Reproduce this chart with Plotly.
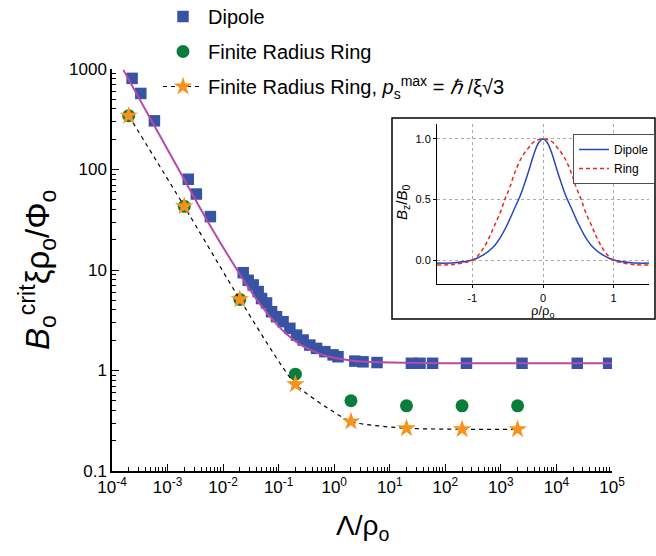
import plotly.graph_objects as go

# ---------------- main chart data ----------------
dipole_x = [2.3e-4, 3.3e-4, 5.8e-4, 2.36e-3, 3.3e-3, 5.9e-3,
            0.023, 0.0283, 0.0348, 0.0428, 0.0492, 0.0605, 0.0745, 0.0916,
            0.12, 0.159, 0.21, 0.276, 0.364, 0.48, 0.678, 0.955, 1.17,
            2.35, 3.3, 5.9, 24.5, 35, 59, 240, 2400, 23700, 87000]
dipole_y = [807, 571, 305, 80, 57, 34,
            9.4, 7.9, 7.1, 6.1, 5.2, 4.7, 3.85, 3.43,
            3.06, 2.63, 2.25, 2.01, 1.79, 1.66, 1.54, 1.43, 1.37,
            1.24, 1.22, 1.2, 1.18, 1.18, 1.18, 1.18, 1.18, 1.18, 1.18]

fit_x = [1.6e-4, 5e-4, 1e-3, 3e-3, 6e-3, 0.0187, 0.03, 0.06, 0.1, 0.14,
         0.25, 0.36, 0.6, 0.95, 2, 3, 10, 100, 1000, 1e5]
fit_y = [980, 315, 158, 53, 27, 9.6, 6.4, 3.8, 2.75, 2.3,
         1.8, 1.62, 1.44, 1.35, 1.26, 1.23, 1.2, 1.18, 1.18, 1.18]

ring_x = [2e-4, 2e-3, 2e-2, 0.2, 2, 20, 200, 2000]
ring_y = [343, 43, 5.1, 0.92, 0.50, 0.445, 0.445, 0.445]
ring_pmax_y = [343, 43, 5.1, 0.73, 0.31, 0.266, 0.26, 0.26]

x_tickvals = [1e-4, 1e-3, 1e-2, 1e-1, 1, 10, 100, 1e3, 1e4, 1e5]
x_ticktext = ["10<sup>-4</sup>", "10<sup>-3</sup>", "10<sup>-2</sup>", "10<sup>-1</sup>",
              "10<sup>0</sup>", "10<sup>1</sup>", "10<sup>2</sup>", "10<sup>3</sup>",
              "10<sup>4</sup>", "10<sup>5</sup>"]
y_tickvals = [0.1, 1, 10, 100, 1000]
y_ticktext = ["0.1", "1", "10", "100", "1000"]

# ---------------- inset data ----------------
inset_dipole_x = [-1.5, -1.25, -1.0, -0.85, -0.7, -0.6, -0.5, -0.4, -0.33, -0.25, -0.2, -0.12, -0.06, 0.0,
                  0.06, 0.12, 0.2, 0.25, 0.33, 0.4, 0.5, 0.6, 0.7, 0.85, 1.0, 1.25, 1.5]
inset_dipole_y = [-0.025, -0.022, 0.0, 0.04, 0.11, 0.19, 0.30, 0.43, 0.52, 0.65, 0.74, 0.89, 0.97, 1.0,
                  0.97, 0.89, 0.74, 0.65, 0.52, 0.43, 0.30, 0.19, 0.11, 0.04, 0.0, -0.022, -0.025]
inset_ring_x = [-1.5, -1.3, -1.1, -1.0, -0.9, -0.83, -0.75, -0.69, -0.6, -0.54, -0.47, -0.4, -0.3, -0.2, -0.12, 0.0,
                0.12, 0.2, 0.3, 0.4, 0.47, 0.54, 0.6, 0.69, 0.75, 0.83, 0.9, 1.0, 1.1, 1.3, 1.5]
inset_ring_y = [-0.04, -0.038, -0.02, -0.005, 0.05, 0.11, 0.2, 0.28, 0.4, 0.5, 0.6, 0.72, 0.85, 0.93, 0.98, 1.0,
                0.98, 0.93, 0.85, 0.72, 0.6, 0.5, 0.4, 0.28, 0.2, 0.11, 0.05, -0.005, -0.02, -0.038, -0.04]

W, H = 656, 556
FONT = "Liberation Sans, Arial, sans-serif"
BLUE = "rgb(57,83,164)"
GREEN = "rgb(10,125,60)"
ORANGE = "rgb(247,146,30)"
MAGENTA = "rgb(180,75,170)"

def px_x(p):
    return p / W

def px_y(p):
    return (H - p) / H

fig = go.Figure()

fig.add_trace(go.Scatter(x=dipole_x, y=dipole_y, mode="markers", name="Dipole",
                         marker=dict(symbol="square", size=11.5, color=BLUE),
                         legendgroup="a", legend="legend"))
fig.add_trace(go.Scatter(x=fit_x, y=fit_y, mode="lines", showlegend=False,
                         line=dict(color=MAGENTA, width=2, shape="spline", smoothing=0.8)))
fig.add_trace(go.Scatter(x=ring_x, y=ring_y, mode="markers", name="Finite Radius Ring",
                         marker=dict(symbol="circle", size=13, color=GREEN),
                         legendgroup="b", legend="legend"))
fig.add_trace(go.Scatter(x=ring_x, y=ring_pmax_y, mode="lines+markers",
                         name="Finite Radius Ring, <i>p</i><sub>s</sub><sup>max</sup> = <i>ℏ</i> /ξ√3",
                         marker=dict(symbol="star", size=14, color=ORANGE),
                         line=dict(color="black", width=1.2, dash="4px,4px", shape="spline", smoothing=0.5),
                         legendgroup="c", legend="legend"))

# inset traces
fig.add_trace(go.Scatter(x=inset_dipole_x, y=inset_dipole_y, mode="lines", name="Dipole",
                         line=dict(color="rgb(40,70,190)", width=1.5, shape="spline"),
                         xaxis="x2", yaxis="y2", legend="legend2", legendgroup="i"))
fig.add_trace(go.Scatter(x=inset_ring_x, y=inset_ring_y, mode="lines", name="Ring",
                         line=dict(color="rgb(235,40,30)", width=1.5, dash="4px,3px", shape="spline"),
                         xaxis="x2", yaxis="y2", legend="legend2", legendgroup="i"))

minor_vals = [m * 10 ** e for e in range(-4, 5) for m in range(2, 10)]
minor_vals_y = [m * 10 ** e for e in range(-1, 3) for m in range(2, 10)]

fig.update_layout(
    width=W, height=H,
    margin=dict(l=0, r=0, t=0, b=0, autoexpand=False),
    paper_bgcolor="white", plot_bgcolor="rgba(0,0,0,0)",
    font=dict(family=FONT, color="black"),
    xaxis=dict(type="log", range=[-4, 5], domain=[px_x(112), px_x(612)],
               tickmode="array", tickvals=x_tickvals, ticktext=x_ticktext,
               ticks="inside", ticklen=7, tickwidth=1.2, tickcolor="black",
               minor=dict(tickmode="array", tickvals=minor_vals, ticks="inside", ticklen=4,
                          tickwidth=1, tickcolor="black", showgrid=False),
               showline=True, linecolor="black", linewidth=1.5, showgrid=False, zeroline=False,
               tickfont=dict(size=17), anchor="y"),
    yaxis=dict(type="log", range=[-1, 3], domain=[px_y(471), px_y(69)],
               tickmode="array", tickvals=y_tickvals, ticktext=y_ticktext,
               ticks="inside", ticklen=7, tickwidth=1.2, tickcolor="black",
               minor=dict(tickmode="array", tickvals=minor_vals_y, ticks="inside", ticklen=4,
                          tickwidth=1, tickcolor="black", showgrid=False),
               showline=True, linecolor="black", linewidth=1.5, showgrid=False, zeroline=False,
               tickfont=dict(size=17), anchor="x"),
    xaxis2=dict(range=[-1.5, 1.5], domain=[px_x(437), px_x(649)], anchor="y2",
                tickvals=[-1, 0, 1], ticktext=["-1", "0", "1"],
                ticks="outside", ticklen=3, tickcolor="black",
                showline=True, linecolor="black", linewidth=1,
                showgrid=True, gridcolor="rgb(170,170,170)", griddash="dot", gridwidth=1,
                zeroline=False, tickfont=dict(size=11)),
    yaxis2=dict(range=[-0.2, 1.12], domain=[px_y(284.3), px_y(124.4)], anchor="x2",
                tickvals=[0, 0.5, 1.0], ticktext=["0.0", "0.5", "1.0"],
                ticks="outside", ticklen=3, tickcolor="black",
                showline=True, linecolor="black", linewidth=1,
                showgrid=True, gridcolor="rgb(170,170,170)", griddash="dot", gridwidth=1,
                zeroline=False, tickfont=dict(size=11)),
    legend=dict(x=px_x(158), y=px_y(-3), xanchor="left", yanchor="top",
                font=dict(size=20), bgcolor="rgba(0,0,0,0)", tracegroupgap=6,
                itemwidth=40),
    legend2=dict(x=px_x(573), y=px_y(134), xanchor="left", yanchor="top",
                 font=dict(size=12), bgcolor="white", bordercolor="rgb(80,80,80)",
                 borderwidth=1, tracegroupgap=0, itemwidth=30),
    shapes=[dict(type="rect", xref="paper", yref="paper",
                 x0=px_x(392), x1=px_x(655), y0=px_y(319), y1=px_y(118),
                 line=dict(color="black", width=1.5), fillcolor="rgba(0,0,0,0)", layer="below")],
    annotations=[
        dict(text="<i>B</i><sub>o</sub><sup>crit</sup>ξρ<sub>o</sub>/Φ<sub>o</sub>",
             xref="paper", yref="paper", x=px_x(37), y=px_y(270), textangle=-90,
             showarrow=False, font=dict(size=33), xanchor="center", yanchor="middle"),
        dict(text="Λ/ρ<sub>o</sub>", xref="paper", yref="paper", x=px_x(362), y=px_y(527),
             showarrow=False, font=dict(size=28), xanchor="center", yanchor="middle"),
        dict(text="<i>B</i><sub>z</sub>/<i>B</i><sub>0</sub>", xref="paper", yref="paper",
             x=px_x(403), y=px_y(203), textangle=-90, showarrow=False, font=dict(size=15),
             xanchor="center", yanchor="middle"),
        dict(text="ρ/ρ<sub>o</sub>", xref="paper", yref="paper", x=px_x(542), y=px_y(311),
             showarrow=False, font=dict(size=13), xanchor="center", yanchor="middle"),
    ],
)

fig.write_html("out.html")
